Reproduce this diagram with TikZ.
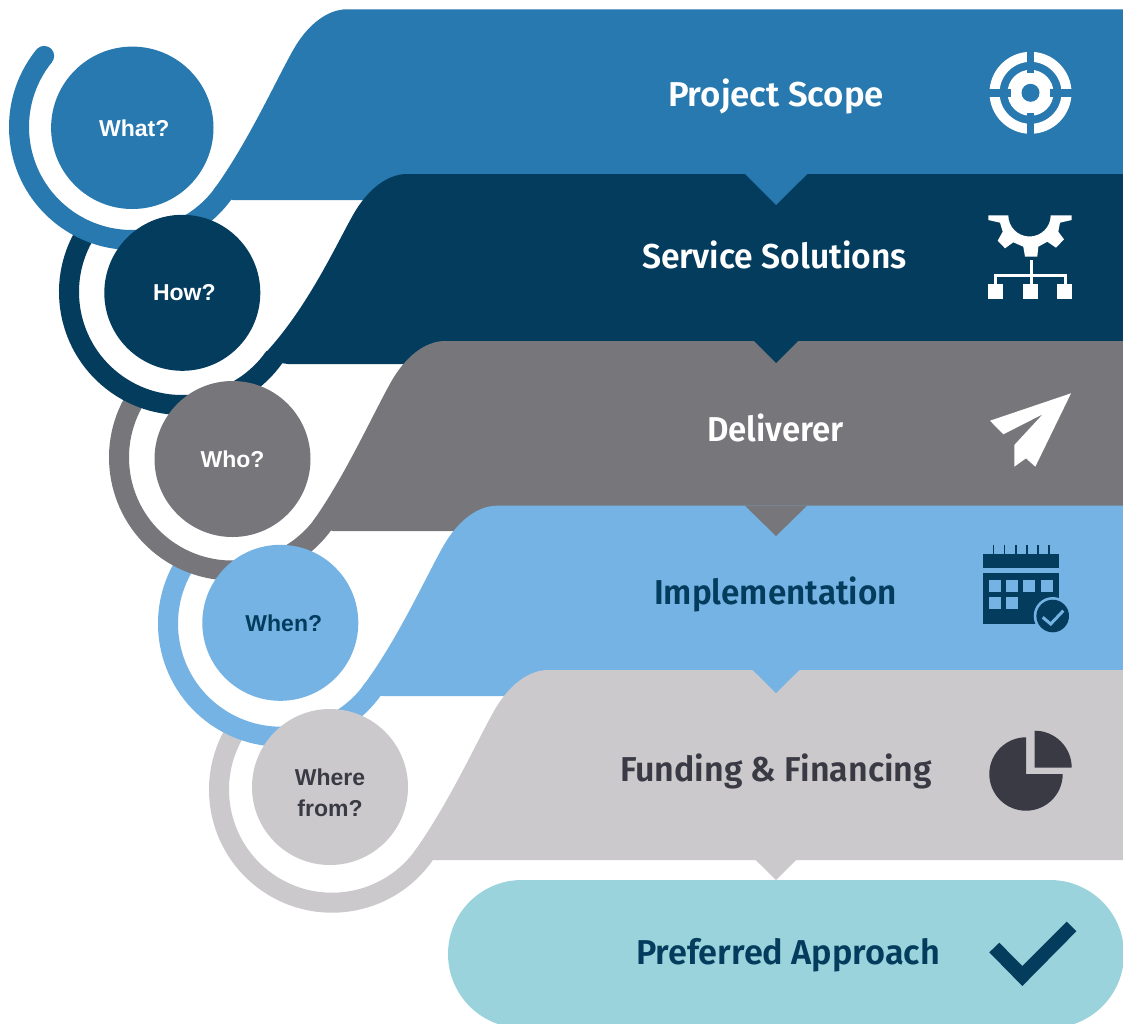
\documentclass[tikz,border=0pt]{standalone}
\usepackage{fontspec}
\setmainfont{Fira Sans}
\newfontfamily\titlefont{Fira Sans SemiBold}
\newfontfamily\circfont{Liberation Sans}
\usetikzlibrary{calc}
\definecolor{cA}{HTML}{2779B0}
\definecolor{cB}{HTML}{043C5E}
\definecolor{cC}{HTML}{77767B}
\definecolor{cD}{HTML}{74B3E3}
\definecolor{cE}{HTML}{CBC9CC}
\definecolor{cF}{HTML}{9AD3DB}
\definecolor{cG}{HTML}{3A3A44}
\tikzset{
  qcircle/.style={circle,inner sep=0pt,font=\circfont\bfseries\fontsize{23}{31}\selectfont},
  title/.style={anchor=base,inner sep=0pt,font=\titlefont\fontsize{34.5}{40}\selectfont},
}
\newcommand\fitw[2]{\resizebox{#1pt}{\height}{#2}}
% color, flat-start x, top, bottom, corner x, centre x, centre y
\newcommand\bandbody[7]{%
  \fill[#1] (1123,-#3) -- (#2,-#3)
    .. controls ({#2-20},-#3) and ({#2-40},{-#3-16}) .. ({#2-54},{-#3-41})
    .. controls ({#2-72},{-#3-73}) and ({#2-100},{-#3-135}) .. ([shift={(#6,-#7)}]-38:103)
    -- ([shift={(#6,-#7)}]-38:113) -- (#5,-#4) -- (1123,-#4) -- cycle;}
% color, start angle, centre x, centre y
\newcommand\bandring[4]{%
  \draw[#1,line width=20pt] ([shift={(#3,-#4)}]#2:113) arc[start angle=#2,end angle=325,radius=113];}
\begin{document}
\begin{tikzpicture}[x=1pt,y=1pt]
\useasboundingbox (0,0) rectangle (1123,-1023);
\fill[white] (0,0) rectangle (1123,-1023);
% pill
\fill[cF,rounded corners=74pt] (448,-880) rectangle (1124,-1028);
% bodies
\bandbody{cA}{347}{9.3}{200}{232.7}{132}{127}
\bandbody{cB}{407}{174}{364}{288}{182}{292}
\bandbody{cC}{445}{341}{531}{332.7}{232}{457.5}
\bandbody{cD}{497}{505.7}{696}{382.7}{281}{623.7}
\bandbody{cE}{548}{670}{860}{432.7}{332}{789.7}
% notches
\fill[cA] (745,-174) -- (776,-205) -- (807.3,-174) -- cycle;
\fill[cB] (754,-341) -- (776,-363) -- (798,-341) -- cycle;
\fill[cC] (745,-505.7) -- (776,-536) -- (807,-505.7) -- cycle;
\fill[cD] (752.7,-670) -- (776,-693) -- (799.3,-670) -- cycle;
\fill[cE] (755.7,-860) -- (776,-880) -- (796,-860) -- cycle;
% rings
\bandring{cE}{148}{332}{789.7}
\bandring{cD}{148}{281}{623.7}
\bandring{cC}{148}{232}{457.5}
\bandring{cB}{148}{182}{292}
\bandring{cA}{141}{132}{127}
\fill[cA] ([shift={(132,-127)}]141:113) circle[radius=10];
% circles
\node[qcircle,fill=cA,minimum size=162.4pt,text=white] (what) at (132.3,-127.8) {\hspace*{4pt}What?};
\node[qcircle,fill=cB,minimum size=156pt,text=white] (how) at (182.3,-292.8) {\hspace*{4pt}How?};
\node[qcircle,fill=cC,minimum size=156pt,text=white] (who) at (232.5,-459) {Who?};
\node[qcircle,fill=cD,minimum size=156pt,text=cB] (when) at (280.3,-622.8) {\hspace*{7pt}When?};
\node[qcircle,fill=cE,minimum size=156pt,label={[align=center,text=cG,yshift=-6pt,font=\circfont\bfseries\fontsize{23}{31}\selectfont]center:Where\\from?}] (wherefrom) at (330,-787) {};
% titles
\node[title,text=white] (t1) at (776,-106.7) {\fitw{216}{Project Scope}};
\node[title,text=white] (t2) at (774.4,-268) {\fitw{264.7}{Service Solutions}};
\node[title,text=white] (t3) at (775.5,-441) {\fitw{137}{Deliverer}};
\node[title,text=cB] (t4) at (775.5,-604) {\fitw{243}{Implementation}};
\node[title,text=cG] (t5) at (776,-781.7) {\fitw{312}{Funding \& Financing}};
\node[title,text=cB] (t6) at (788,-964) {\fitw{304}{Preferred Approach}};
% target icon
\fill[white,even odd rule] (1030.5,-92.8) circle[radius=41] circle[radius=31];
\fill[white] (1030.5,-92.8) circle[radius=23];
\fill[cA] (1026.8,-48) rectangle (1034.2,-73);
\fill[cA] (1026.8,-112.6) rectangle (1034.2,-137);
\fill[cA] (986,-89) rectangle (1011,-96.6);
\fill[cA] (1050,-89) rectangle (1075,-96.6);
\fill[cA] (1030.5,-92.8) circle[radius=9];
% gear and tree icon
\fill[white] (988.3,-215.3) -- (1008.3,-215.3) arc[start angle=180,end angle=360,radius=21.2]
  -- (1071.7,-215.3) -- (1071.7,-220) -- (1060,-222.7) -- (1058.3,-231.7) -- (1064,-239.3)
  -- (1056,-247.7) -- (1047.3,-241.7) -- (1038.3,-246.7) -- (1037.3,-256.7) -- (1025,-256.7)
  -- (1023.3,-246.7) -- (1013.3,-242.3) -- (1005,-248.3) -- (997.7,-240.7) -- (1002.7,-231.7)
  -- (1000,-222.7) -- (988.3,-220) -- cycle;
\draw[white,line width=3pt] (1031,-260) -- (1031,-285);
\draw[white,line width=2.5pt] (995.5,-285) -- (995.5,-275.7) -- (1065.5,-275.7) -- (1065.5,-285);
\fill[white] (988,-284) rectangle (1003,-298.7);
\fill[white] (1023,-284) rectangle (1038,-298.7);
\fill[white] (1057,-284) rectangle (1072,-298.7);
% paper plane
\fill[white] (1071,-393.3) -- (990,-420.7) -- (1003.3,-434.3) -- (1042.7,-414.3) -- (1014.3,-445)
  -- (1014.3,-466.7) -- (1026,-458.3) -- (1035.3,-466.7) -- cycle;
% calendar
\fill[cB] (983.3,-554) rectangle (1059.3,-568.3);
\foreach \tx in {993.3,1004.3,1015.7,1026.7,1037.7,1049}
  \fill[cB] (\tx-0.8,-545) rectangle (\tx+0.8,-554);
\fill[cB] (983.3,-572.7) rectangle (1059.3,-624.3);
\foreach \sx/\sy in {989/580,1006/580,1023/580,1041/580,989/597,1006/597}
  \fill[cD] (\sx,-\sy) rectangle (\sx+12,-\sy-12);
\fill[cD] (1052.7,-616) circle[radius=19];
\fill[cB] (1052.7,-616) circle[radius=16.3];
\draw[cD,line width=3pt] (1042.7,-617.3) -- (1050.7,-624) -- (1063.3,-610.7);
% pie
\fill[cG] (1026,-774) -- (1062.7,-774) arc[start angle=0,end angle=-270,radius=36.7] -- cycle;
\fill[cG] (1034.7,-767.7) -- (1034.7,-730.7) arc[start angle=90,end angle=0,radius=37] -- cycle;
% check
\fill[cB] (989.3,-952.3) -- (999.3,-942.7) -- (1022.3,-966) -- (1066.7,-921.7) -- (1076.3,-931.3) -- (1022.3,-986) -- cycle;
\end{tikzpicture}
\end{document}
